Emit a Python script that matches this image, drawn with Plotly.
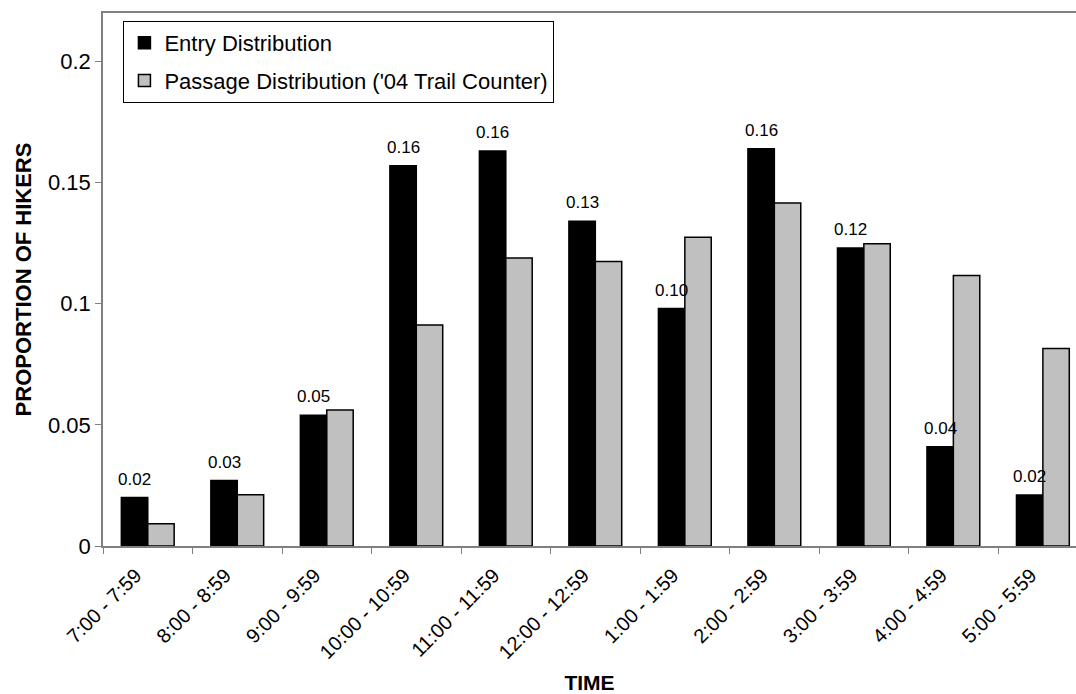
import plotly.graph_objects as go

categories = ["7:00 - 7:59", "8:00 - 8:59", "9:00 - 9:59", "10:00 - 10:59", "11:00 - 11:59",
              "12:00 - 12:59", "1:00 - 1:59", "2:00 - 2:59", "3:00 - 3:59", "4:00 - 4:59",
              "5:00 - 5:59"]
entry = [0.020, 0.027, 0.054, 0.157, 0.163, 0.134, 0.098, 0.164, 0.123, 0.041, 0.021]
passage = [0.0092, 0.0212, 0.0561, 0.0912, 0.1189, 0.1174, 0.1274, 0.1416, 0.1248, 0.1116, 0.0815]
y_ticks = [0, 0.05, 0.1, 0.15, 0.2]
y_tick_labels = ["0", "0.05", "0.1", "0.15", "0.2"]

FONT = "Liberation Sans, Arial, sans-serif"

fig = go.Figure()
fig.add_trace(go.Bar(
    x=categories, y=entry, name="Entry Distribution", legendgroup="a",
    marker=dict(color="#000000", line=dict(color="#000000", width=1.5)),
))
fig.add_trace(go.Bar(
    x=categories, y=passage, name="Passage Distribution ('04 Trail Counter)", legendgroup="b",
    marker=dict(color="#C0C0C0", line=dict(color="#000000", width=1.5)),
))

# value labels above the Entry bars
for cat, val in zip(categories, entry):
    fig.add_annotation(
        x=cat, y=val, xref="x", yref="y", text=f"{val:.2f}", showarrow=False,
        yanchor="bottom", xanchor="center", xshift=-13, yshift=7,
        font=dict(family=FONT, size=17, color="#000000"),
    )

fig.update_layout(
    width=1076, height=694,
    margin=dict(l=103, r=0, t=13, b=148),
    paper_bgcolor="white", plot_bgcolor="white",
    barmode="group", bargap=0.41, bargroupgap=0,
    font=dict(family=FONT, color="#000000"),
    showlegend=True,
    legend=dict(
        x=0.021, y=0.985, xanchor="left", yanchor="top",
        bordercolor="#000000", borderwidth=1, bgcolor="white",
        font=dict(family=FONT, size=22), traceorder="grouped", tracegroupgap=6,
    ),
    xaxis=dict(
        type="category", range=[-0.5, 10.37],
        showline=True, linecolor="#808080", linewidth=1.5, mirror=True,
        ticks="outside", ticklen=6, tickcolor="#808080", tickson="boundaries",
        tickangle=-45, tickfont=dict(family=FONT, size=20),
        ticklabelshift=-12, ticklabelstandoff=8,
        showgrid=False, zeroline=False, automargin=False,
        title=dict(text="<b>TIME</b>", font=dict(family=FONT, size=21), standoff=30),
    ),
    yaxis=dict(
        range=[0, 0.22], tickvals=y_ticks, ticktext=y_tick_labels,
        showline=True, linecolor="#808080", linewidth=1.5,
        ticks="outside", ticklen=6, tickcolor="#808080",
        tickfont=dict(family=FONT, size=22),
        showgrid=False, zeroline=False, automargin=False,
        title=dict(text="<b>PROPORTION OF HIKERS</b>", font=dict(family=FONT, size=22), standoff=10),
    ),
)

fig.write_html("out.html", config={"displayModeBar": False},
               post_script="document.body.style.margin='0';document.body.style.overflow='hidden';")
